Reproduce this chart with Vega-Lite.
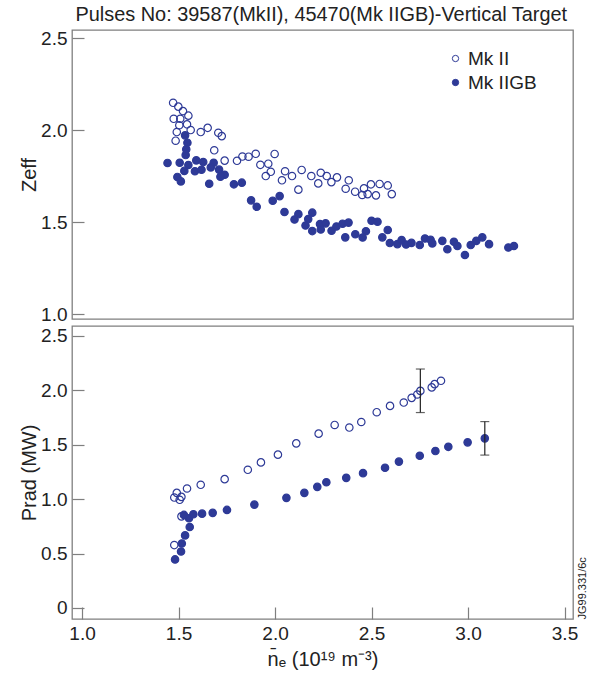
{
  "$schema": "https://vega.github.io/schema/vega-lite/v6.json",
  "padding": {"left": 18, "top": 5, "right": 5, "bottom": 5},
  "background": "white",
  "config": {
    "font": "Liberation Sans",
    "view": {"stroke": "#7f7f7f", "strokeWidth": 1.3},
    "axis": {"grid": false, "domain": false, "tickColor": "#7f7f7f", "tickWidth": 1.2, "tickSize": -12, "labelPadding": 17, "labelFontSize": 19, "labelColor": "#222222", "titleFontSize": 20, "titleFontWeight": "normal", "titleColor": "#222222"},
    "concat": {"spacing": 0}
  },
  "title": {"text": "Pulses No: 39587(MkII), 45470(Mk IIGB)-Vertical Target", "fontSize": 19.9, "fontWeight": "normal", "color": "#222222", "anchor": "middle", "offset": 3, "dx": 18},
  "spacing": 0,
  "resolve": {"scale": {"fill": "independent"}, "legend": {"fill": "independent"}},
  "datasets": {
    "zeff": [
      {"ne": 1.472, "z": 2.148, "series": "Mk II"}, {"ne": 1.499, "z": 2.127, "series": "Mk II"}, {"ne": 1.523, "z": 2.103, "series": "Mk II"}, {"ne": 1.551, "z": 2.078, "series": "Mk II"},
      {"ne": 1.475, "z": 2.061, "series": "Mk II"}, {"ne": 1.509, "z": 2.061, "series": "Mk II"}, {"ne": 1.504, "z": 2.026, "series": "Mk II"}, {"ne": 1.544, "z": 2.031, "series": "Mk II"},
      {"ne": 1.563, "z": 2.0, "series": "Mk II"}, {"ne": 1.491, "z": 1.989, "series": "Mk II"}, {"ne": 1.615, "z": 1.989, "series": "Mk II"}, {"ne": 1.651, "z": 2.012, "series": "Mk II"},
      {"ne": 1.706, "z": 1.985, "series": "Mk II"}, {"ne": 1.724, "z": 1.967, "series": "Mk II"}, {"ne": 1.485, "z": 1.942, "series": "Mk II"}, {"ne": 1.685, "z": 1.89, "series": "Mk II"},
      {"ne": 1.739, "z": 1.834, "series": "Mk II"}, {"ne": 1.803, "z": 1.833, "series": "Mk II"}, {"ne": 1.831, "z": 1.856, "series": "Mk II"}, {"ne": 1.863, "z": 1.855, "series": "Mk II"},
      {"ne": 1.9, "z": 1.871, "series": "Mk II"}, {"ne": 1.924, "z": 1.811, "series": "Mk II"}, {"ne": 1.952, "z": 1.75, "series": "Mk II"}, {"ne": 1.965, "z": 1.817, "series": "Mk II"},
      {"ne": 1.998, "z": 1.87, "series": "Mk II"}, {"ne": 1.978, "z": 1.773, "series": "Mk II"}, {"ne": 2.052, "z": 1.776, "series": "Mk II"}, {"ne": 2.088, "z": 1.75, "series": "Mk II"},
      {"ne": 2.036, "z": 1.727, "series": "Mk II"}, {"ne": 2.138, "z": 1.783, "series": "Mk II"}, {"ne": 2.121, "z": 1.676, "series": "Mk II"}, {"ne": 2.188, "z": 1.75, "series": "Mk II"},
      {"ne": 2.237, "z": 1.768, "series": "Mk II"}, {"ne": 2.268, "z": 1.75, "series": "Mk II"}, {"ne": 2.224, "z": 1.71, "series": "Mk II"}, {"ne": 2.292, "z": 1.717, "series": "Mk II"},
      {"ne": 2.321, "z": 1.743, "series": "Mk II"}, {"ne": 2.382, "z": 1.727, "series": "Mk II"}, {"ne": 2.366, "z": 1.681, "series": "Mk II"}, {"ne": 2.415, "z": 1.665, "series": "Mk II"},
      {"ne": 2.461, "z": 1.683, "series": "Mk II"}, {"ne": 2.497, "z": 1.705, "series": "Mk II"}, {"ne": 2.542, "z": 1.707, "series": "Mk II"}, {"ne": 2.584, "z": 1.699, "series": "Mk II"},
      {"ne": 2.452, "z": 1.647, "series": "Mk II"}, {"ne": 2.48, "z": 1.652, "series": "Mk II"}, {"ne": 2.523, "z": 1.645, "series": "Mk II"}, {"ne": 2.605, "z": 1.652, "series": "Mk II"},
      {"ne": 1.534, "z": 1.971, "series": "Mk IIGB"}, {"ne": 1.546, "z": 1.931, "series": "Mk IIGB"}, {"ne": 1.54, "z": 1.895, "series": "Mk IIGB"}, {"ne": 1.537, "z": 1.864, "series": "Mk IIGB"},
      {"ne": 1.443, "z": 1.821, "series": "Mk IIGB"}, {"ne": 1.506, "z": 1.822, "series": "Mk IIGB"}, {"ne": 1.551, "z": 1.81, "series": "Mk IIGB"}, {"ne": 1.592, "z": 1.835, "series": "Mk IIGB"},
      {"ne": 1.628, "z": 1.826, "series": "Mk IIGB"}, {"ne": 1.682, "z": 1.822, "series": "Mk IIGB"}, {"ne": 1.667, "z": 1.797, "series": "Mk IIGB"}, {"ne": 1.585, "z": 1.776, "series": "Mk IIGB"},
      {"ne": 1.619, "z": 1.784, "series": "Mk IIGB"}, {"ne": 1.53, "z": 1.778, "series": "Mk IIGB"}, {"ne": 1.71, "z": 1.785, "series": "Mk IIGB"}, {"ne": 1.739, "z": 1.757, "series": "Mk IIGB"},
      {"ne": 1.717, "z": 1.746, "series": "Mk IIGB"}, {"ne": 1.494, "z": 1.745, "series": "Mk IIGB"}, {"ne": 1.512, "z": 1.721, "series": "Mk IIGB"}, {"ne": 1.659, "z": 1.708, "series": "Mk IIGB"},
      {"ne": 1.787, "z": 1.705, "series": "Mk IIGB"}, {"ne": 1.828, "z": 1.714, "series": "Mk IIGB"}, {"ne": 1.876, "z": 1.618, "series": "Mk IIGB"}, {"ne": 1.905, "z": 1.583, "series": "Mk IIGB"},
      {"ne": 1.988, "z": 1.616, "series": "Mk IIGB"}, {"ne": 2.024, "z": 1.641, "series": "Mk IIGB"}, {"ne": 2.049, "z": 1.555, "series": "Mk IIGB"}, {"ne": 2.121, "z": 1.543, "series": "Mk IIGB"},
      {"ne": 2.101, "z": 1.514, "series": "Mk IIGB"}, {"ne": 2.193, "z": 1.551, "series": "Mk IIGB"}, {"ne": 2.172, "z": 1.516, "series": "Mk IIGB"}, {"ne": 2.158, "z": 1.481, "series": "Mk IIGB"},
      {"ne": 2.193, "z": 1.451, "series": "Mk IIGB"}, {"ne": 2.233, "z": 1.489, "series": "Mk IIGB"}, {"ne": 2.262, "z": 1.493, "series": "Mk IIGB"}, {"ne": 2.237, "z": 1.46, "series": "Mk IIGB"},
      {"ne": 2.293, "z": 1.453, "series": "Mk IIGB"}, {"ne": 2.318, "z": 1.476, "series": "Mk IIGB"}, {"ne": 2.35, "z": 1.491, "series": "Mk IIGB"}, {"ne": 2.381, "z": 1.497, "series": "Mk IIGB"},
      {"ne": 2.364, "z": 1.417, "series": "Mk IIGB"}, {"ne": 2.416, "z": 1.434, "series": "Mk IIGB"}, {"ne": 2.471, "z": 1.45, "series": "Mk IIGB"}, {"ne": 2.454, "z": 1.416, "series": "Mk IIGB"},
      {"ne": 2.5, "z": 1.507, "series": "Mk IIGB"}, {"ne": 2.531, "z": 1.502, "series": "Mk IIGB"}, {"ne": 2.584, "z": 1.457, "series": "Mk IIGB"}, {"ne": 2.556, "z": 1.417, "series": "Mk IIGB"},
      {"ne": 2.595, "z": 1.386, "series": "Mk IIGB"}, {"ne": 2.634, "z": 1.38, "series": "Mk IIGB"}, {"ne": 2.656, "z": 1.402, "series": "Mk IIGB"}, {"ne": 2.679, "z": 1.378, "series": "Mk IIGB"},
      {"ne": 2.707, "z": 1.387, "series": "Mk IIGB"}, {"ne": 2.75, "z": 1.375, "series": "Mk IIGB"}, {"ne": 2.777, "z": 1.411, "series": "Mk IIGB"}, {"ne": 2.806, "z": 1.404, "series": "Mk IIGB"},
      {"ne": 2.815, "z": 1.384, "series": "Mk IIGB"}, {"ne": 2.867, "z": 1.398, "series": "Mk IIGB"}, {"ne": 2.893, "z": 1.352, "series": "Mk IIGB"}, {"ne": 2.927, "z": 1.393, "series": "Mk IIGB"},
      {"ne": 2.945, "z": 1.37, "series": "Mk IIGB"}, {"ne": 2.984, "z": 1.321, "series": "Mk IIGB"}, {"ne": 3.014, "z": 1.375, "series": "Mk IIGB"}, {"ne": 3.043, "z": 1.398, "series": "Mk IIGB"},
      {"ne": 3.074, "z": 1.417, "series": "Mk IIGB"}, {"ne": 3.109, "z": 1.38, "series": "Mk IIGB"}, {"ne": 3.209, "z": 1.362, "series": "Mk IIGB"}, {"ne": 3.238, "z": 1.37, "series": "Mk IIGB"}
    ],
    "prad": [
      {"ne": 1.478, "p": 0.578, "series": "Mk II"}, {"ne": 1.515, "p": 0.842, "series": "Mk II"}, {"ne": 1.506, "p": 0.994, "series": "Mk II"}, {"ne": 1.478, "p": 1.015, "series": "Mk II"},
      {"ne": 1.515, "p": 1.021, "series": "Mk II"}, {"ne": 1.491, "p": 1.058, "series": "Mk II"}, {"ne": 1.544, "p": 1.098, "series": "Mk II"}, {"ne": 1.615, "p": 1.132, "series": "Mk II"},
      {"ne": 1.739, "p": 1.184, "series": "Mk II"}, {"ne": 1.859, "p": 1.27, "series": "Mk II"}, {"ne": 1.927, "p": 1.338, "series": "Mk II"}, {"ne": 2.015, "p": 1.409, "series": "Mk II"},
      {"ne": 2.11, "p": 1.513, "series": "Mk II"}, {"ne": 2.226, "p": 1.602, "series": "Mk II"}, {"ne": 2.309, "p": 1.682, "series": "Mk II"}, {"ne": 2.385, "p": 1.658, "series": "Mk II"},
      {"ne": 2.447, "p": 1.709, "series": "Mk II"}, {"ne": 2.527, "p": 1.799, "series": "Mk II"}, {"ne": 2.596, "p": 1.857, "series": "Mk II"}, {"ne": 2.667, "p": 1.888, "series": "Mk II"},
      {"ne": 2.708, "p": 1.931, "series": "Mk II"}, {"ne": 2.737, "p": 1.962, "series": "Mk II"}, {"ne": 2.753, "p": 1.995, "series": "Mk II"}, {"ne": 2.812, "p": 2.027, "series": "Mk II"},
      {"ne": 2.827, "p": 2.057, "series": "Mk II"}, {"ne": 2.86, "p": 2.088, "series": "Mk II"},
      {"ne": 1.482, "p": 0.446, "series": "Mk IIGB"}, {"ne": 1.513, "p": 0.519, "series": "Mk IIGB"}, {"ne": 1.517, "p": 0.593, "series": "Mk IIGB"}, {"ne": 1.534, "p": 0.667, "series": "Mk IIGB"},
      {"ne": 1.558, "p": 0.744, "series": "Mk IIGB"}, {"ne": 1.554, "p": 0.824, "series": "Mk IIGB"}, {"ne": 1.528, "p": 0.855, "series": "Mk IIGB"}, {"ne": 1.577, "p": 0.861, "series": "Mk IIGB"},
      {"ne": 1.622, "p": 0.867, "series": "Mk IIGB"}, {"ne": 1.677, "p": 0.874, "series": "Mk IIGB"}, {"ne": 1.751, "p": 0.901, "series": "Mk IIGB"}, {"ne": 1.893, "p": 0.95, "series": "Mk IIGB"},
      {"ne": 2.059, "p": 1.012, "series": "Mk IIGB"}, {"ne": 2.152, "p": 1.058, "series": "Mk IIGB"}, {"ne": 2.219, "p": 1.113, "series": "Mk IIGB"}, {"ne": 2.266, "p": 1.156, "series": "Mk IIGB"},
      {"ne": 2.369, "p": 1.196, "series": "Mk IIGB"}, {"ne": 2.456, "p": 1.239, "series": "Mk IIGB"}, {"ne": 2.57, "p": 1.289, "series": "Mk IIGB"}, {"ne": 2.642, "p": 1.345, "series": "Mk IIGB"},
      {"ne": 2.75, "p": 1.399, "series": "Mk IIGB"}, {"ne": 2.831, "p": 1.442, "series": "Mk IIGB"}, {"ne": 2.898, "p": 1.481, "series": "Mk IIGB"}, {"ne": 2.998, "p": 1.522, "series": "Mk IIGB"},
      {"ne": 3.087, "p": 1.559, "series": "Mk IIGB"}
    ],
    "err": [
      {"ne": 2.753, "lo": 1.796, "hi": 2.196},
      {"ne": 3.087, "lo": 1.405, "hi": 1.713}
    ]
  },
  "vconcat": [
    {
      "width": 501,
      "height": 289,
      "data": {"name": "zeff"},
      "mark": {"type": "point", "filled": true, "size": 55, "stroke": "#2e3a97", "strokeWidth": 1.2, "opacity": 1},
      "encoding": {
        "x": {"field": "ne", "type": "quantitative", "scale": {"domain": [0.948, 3.544], "nice": false, "zero": false}, "axis": null},
        "y": {"field": "z", "type": "quantitative", "scale": {"domain": [0.9733, 2.5435], "nice": false, "zero": false},
              "axis": {"values": [1, 1.5, 2, 2.5], "format": ".1f", "title": "Zeff", "titlePadding": 1}},
        "fill": {"field": "series", "type": "nominal", "scale": {"domain": ["Mk II", "Mk IIGB"], "range": ["transparent", "#2e3a97"]},
                 "legend": {"title": null, "orient": "none", "legendX": 374, "legendY": 19, "symbolType": "circle", "symbolSize": 40, "symbolStrokeColor": "#2e3a97", "symbolStrokeWidth": 1, "labelFontSize": 19, "labelColor": "#222222", "rowPadding": 4, "labelOffset": 3}}
      }
    },
    {
      "width": 501,
      "height": 293,
      "encoding": {
        "x": {"field": "ne", "type": "quantitative", "scale": {"domain": [0.948, 3.544], "nice": false, "zero": false},
              "axis": {"values": [1, 1.5, 2, 2.5, 3, 3.5], "format": ".1f", "title": "n̄ₑ (10¹⁹ m⁻³)", "titlePadding": 6}}
      },
      "layer": [
        {
          "data": {"name": "prad"},
          "mark": {"type": "point", "filled": true, "size": 55, "stroke": "#2e3a97", "strokeWidth": 1.2, "opacity": 1},
          "encoding": {
            "y": {"field": "p", "type": "quantitative", "scale": {"domain": [-0.1015, 2.5915], "nice": false, "zero": false},
                  "axis": {"values": [0, 0.5, 1, 1.5, 2, 2.5], "labelExpr": "datum.value === 0 ? '0' : format(datum.value, '.1f')", "title": "Prad (MW)", "titlePadding": 1}},
            "fill": {"field": "series", "type": "nominal", "scale": {"domain": ["Mk II", "Mk IIGB"], "range": ["transparent", "#2e3a97"]}, "legend": null}
          }
        },
        {
          "data": {"name": "err"},
          "mark": {"type": "rule", "color": "#222222", "strokeWidth": 1.2},
          "encoding": {
            "y": {"field": "lo", "type": "quantitative", "scale": {"domain": [-0.1015, 2.5915], "nice": false, "zero": false},
                  "axis": {"orient": "right", "labels": false, "ticks": false, "domain": false, "title": "JG99.331/6c", "titleFontSize": 11, "titleAngle": 270, "titleAnchor": "start", "titlePadding": 14}},
            "y2": {"field": "hi"}
          }
        },
        {
          "data": {"name": "err"},
          "mark": {"type": "tick", "orient": "horizontal", "color": "#222222", "size": 9, "thickness": 1.2},
          "encoding": {
            "y": {"field": "lo", "type": "quantitative", "scale": {"domain": [-0.1015, 2.5915], "nice": false, "zero": false}, "axis": null}
          }
        },
        {
          "data": {"name": "err"},
          "mark": {"type": "tick", "orient": "horizontal", "color": "#222222", "size": 9, "thickness": 1.2},
          "encoding": {
            "y": {"field": "hi", "type": "quantitative", "scale": {"domain": [-0.1015, 2.5915], "nice": false, "zero": false}, "axis": null}
          }
        }
      ],
      "resolve": {"axis": {"y": "independent"}}
    }
  ]
}
